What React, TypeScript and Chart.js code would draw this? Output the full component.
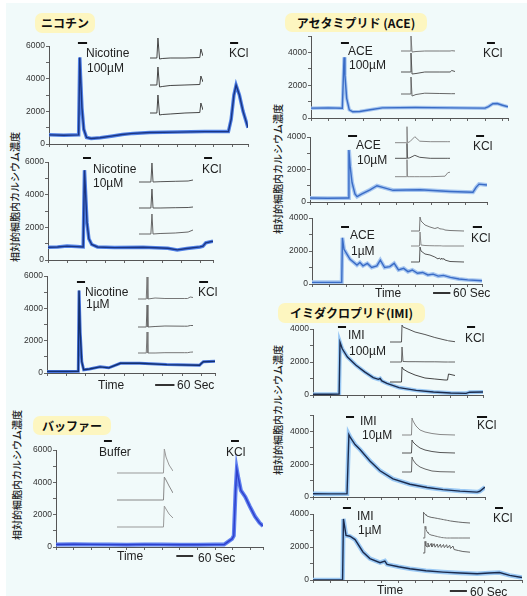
import React, { useEffect, useRef } from "react";
import { Chart, registerables } from "chart.js";
Chart.register(...registerables);

// ---------------- Main traces (x: minutes, y: relative [Ca2+]i) ----------------
const NIC100_T = [0, 0.8, 1.62, 1.68, 1.72, 1.8, 1.9, 2.05, 2.3, 2.8, 3.4, 4.0, 4.6, 5.5, 7.0, 8.5, 9.8, 9.95, 10.1, 10.22, 10.4, 10.6, 10.87];
const NIC100_V = [560, 540, 560, 5300, 4200, 2200, 900, 400, 340, 380, 480, 580, 650, 700, 730, 760, 760, 1500, 3000, 3600, 3000, 2000, 1000];

const NIC10_T = [0, 0.5, 1.0, 1.5, 1.85, 1.92, 1.98, 2.05, 2.15, 2.3, 2.6, 3.5, 5.0, 6.3, 6.8, 7.3, 8.0, 8.15, 8.3, 8.68];
const NIC10_V = [780, 800, 850, 820, 800, 5500, 4000, 2300, 1300, 950, 800, 760, 780, 720, 620, 700, 800, 850, 1050, 1150];

const NIC1_T = [0, 1.0, 1.62, 1.66, 1.72, 1.8, 1.9, 2.2, 2.75, 3.2, 3.8, 4.8, 6.2, 7.9, 8.0, 8.1, 8.7];
const NIC1_V = [100, 100, 110, 5100, 2500, 700, 200, 250, 380, 320, 600, 600, 520, 480, 600, 700, 720];

const BUF_T = [0, 1, 2, 3, 4, 5, 6, 7, 8, 9, 9.5, 9.75, 9.95, 10.05, 10.15, 10.22, 10.3, 10.45, 10.7, 10.96, 11.24, 11.5, 11.7];
const BUF_V = [150, 170, 160, 150, 140, 160, 150, 140, 140, 150, 150, 350, 500, 700, 3500, 4800, 4300, 3500, 3100, 2500, 1900, 1500, 1300];

const ACE100_T = [0, 1.0, 1.8, 1.86, 1.9, 1.95, 2.05, 2.2, 2.4, 2.8, 3.4, 4.1, 6, 8, 10.0, 10.2, 10.45, 10.7, 11.0, 11.32];
const ACE100_V = [600, 620, 600, 2500, 3700, 2600, 1200, 500, 380, 400, 500, 620, 640, 620, 600, 700, 870, 880, 780, 680];

const ACE10_T = [0, 1.0, 2.2, 2.25, 2.32, 2.43, 2.6, 2.72, 3.0, 3.47, 3.87, 4.2, 4.8, 6.36, 8.1, 9.42, 9.6, 9.77, 10.23];
const ACE10_V = [250, 230, 250, 3200, 2200, 1200, 500, 330, 500, 750, 1000, 900, 720, 750, 650, 600, 900, 1100, 1050];

const ACE1_T = [0, 1.0, 1.72, 1.76, 1.85, 2.08, 2.2, 2.6, 2.77, 2.95, 3.2, 3.45, 3.75, 3.95, 4.2, 4.5, 4.75, 5.0, 5.3, 5.55, 5.8, 6.1, 6.4, 6.7, 7.0, 7.3, 7.6, 8.0, 8.5, 9.0, 9.83];
const ACE1_V = [100, 100, 110, 2800, 2100, 1700, 1500, 1150, 1300, 1100, 1250, 1000, 1100, 1450, 1000, 1050, 1250, 850, 950, 750, 850, 650, 700, 550, 600, 480, 520, 400, 300, 250, 200];

const IMI100_T = [0, 1.0, 1.52, 1.57, 1.7, 2.0, 2.5, 3.0, 3.5, 3.8, 3.9, 4.0, 4.3, 5.0, 6.0, 7.0, 8.0, 8.9, 9.1, 9.88];
const IMI100_V = [50, 50, 60, 3200, 2800, 2300, 1800, 1400, 1050, 950, 1000, 850, 700, 450, 280, 180, 120, 100, 170, 180];

const IMI10_T = [0, 1.0, 1.99, 2.1, 2.2, 2.46, 2.75, 3.33, 3.92, 4.68, 5.67, 6.67, 7.6, 8.6, 9.6, 9.76, 10.06];
const IMI10_V = [200, 190, 200, 3800, 3600, 3200, 2900, 2200, 1600, 1100, 780, 580, 450, 360, 300, 350, 600];

const IMI1_T = [0, 1.0, 1.73, 1.78, 1.93, 2.16, 2.46, 2.92, 3.33, 3.92, 4.2, 4.33, 5.0, 5.67, 6.6, 7.6, 8.6, 9.6, 10.3, 10.9, 11.5, 12.22];
const IMI1_V = [0, 0, 10, 3700, 2700, 2650, 2450, 1700, 1300, 1050, 1150, 950, 800, 680, 560, 480, 420, 380, 420, 450, 280, 150];

// stimulus timings (minutes)
const NIC100_STIM = [[1.58, 2.08], [9.89, 10.33]];
const NIC10_STIM = [[1.84, 2.26], [8.21, 8.63]];
const NIC1_STIM = [[1.55, 1.97], [7.88, 8.34]];
const BUF_STIM = [[2.71, 3.16], [9.89, 10.34]];
const ACE100_STIM = [[1.72, 2.18], [10.11, 10.57]];
const ACE10_STIM = [[2.2, 2.72], [9.6, 10.06]];
const ACE1_STIM = [[1.68, 2.14], [9.3, 9.83]];
const IMI100_STIM = [[1.45, 1.92], [8.95, 9.42]];
const IMI10_STIM = [[1.93, 2.4], [9.59, 10.18]];
const IMI1_STIM = [[1.75, 2.22], [10.64, 11.11]];

// ---------------- Inset single-cell traces (x: % of inset width, y: deflection) ----------------
const IN_N100_X = [0, 13, 15, 18, 23, 38, 66, 94, 96, 100];
const IN_N100_A = [0, 0, 20, -1, -0.5, 0, 0, 0.5, 9, 2];
const IN_N100_B = [0, 0, 18, -2, -1.5, -0.5, 0, 0.5, 9, 3];
const IN_N100_C = [0, 0, 18, -2, -1.5, -1, 0, 0.5, 10, 3];

const IN_N10_X = [0, 22, 24, 26, 39, 67, 91, 100];
const IN_N10_A = [0, 0, 19, 0, 0.3, 0.7, 1, 2];
const IN_N10_B = [0, 0, 19, 0, 0, 0.3, 0.5, 1];
const IN_N10_C = [0, 0, 20, 0, 0.5, 1, 2, 4];

const IN_N1_X = [0, 15, 16.5, 18, 31, 49, 85, 90, 95, 100];
const IN_N1_A = [0, 0, 22, 0, 1, 0.5, 0.5, 0.5, 2, 1.5];
const IN_N1_B = [0, 0, 22, 0, 0.5, 1, 0.8, 0.8, 1.5, 1.5];
const IN_N1_C = [0, 0, 21, 0, 0, 0.3, 0.3, 0.3, 0.8, 1];

const IN_BUF_X = [0, 83, 84.5, 87.5, 93, 100];
const IN_BUF_A = [0, 0, 24, 16, 8, 2];
const IN_BUF_B = [0, 0, 23, 20, 14, 7];
const IN_BUF_C = [0, 0, 21, 18, 13, 9];

const IN_A100_X = [0, 17.6, 18.5, 20.4, 27.8, 44, 72, 91, 94, 100];
const IN_A100_A = [0, 0, 15, -1, -0.5, 0, 0, 0, 0.3, 0];
const IN_A100_B = [0, 0, 19, -2, -1.5, 0, 0, 0, 1.5, 0.5];
const IN_A100_C = [0, 0, 17, -2, -0.5, 0.8, 0.5, 0.3, 0.3, 0.3];

const IN_A10_X = [0, 21, 21.8, 22.7, 27, 36, 45, 64, 91, 96, 100];
const IN_A10_A = [0, 0, 16, 0, 1, 6, 1.5, 1, 1, 1, 1];
const IN_A10_B = [0, 0, 15, 0, 0.5, 3, 1, 0, 0, 0, 0];
const IN_A10_C = [0, 0, 17, 0, 0, 0, 0, 0, 0.5, 4, 4.5];

const IN_A1_X = [0, 16, 17, 18.9, 26.4, 35.8, 45, 51, 53, 56.6, 58, 60, 62, 64, 73.6, 100];
const IN_A1_A = [0, 0, 14, 10, 6, 4, 2.5, 3.5, 2.5, 2, 2, 1.8, 1.6, 1, 0.5, 0];
const IN_A1_B = [0, 0, 14, 1, 0.5, 0.3, 0.2, 0.2, 0.2, 0.2, 0.1, 0, 0, 0, 0, 0];
const IN_A1_C = [0, 0, 15, 11, 8, 7, 5, 3, 4, 2.5, 4, 2.5, 3.5, 2, 0.5, 0];

const IN_I100_X = [0, 17.7, 18.5, 20, 27.7, 38.5, 53.8, 69, 84.6, 88.5, 90, 100];
const IN_I100_A = [0, 0, 17, 15, 13, 10, 7.5, 4.5, 2, 1.5, 1.2, 0.3];
const IN_I100_B = [0, 0, 15, 0.5, 0.3, 0.3, 0.2, 0.2, 0, 0, 0, 0];
const IN_I100_C = [0, 0, 15, 13, 10, 7, 4, 3, 2, 2, 8, 6.5];

const IN_I10_X = [0, 17.9, 18.9, 20.8, 26.4, 34, 43.4, 56.6, 71.7, 100];
const IN_I10_A = [0, 0, 17, 14, 9, 5, 3, 1.5, 0.5, 0];
const IN_I10_B = [0, 0, 13, 11, 8, 5, 3, 1.5, 0.5, 0];
const IN_I10_C = [0, 0, 15, 12, 8, 5, 3, 1, 0.3, 0];

const IN_I1_X = [0, 1, 1.5, 3.8, 4.3, 6, 9, 10.6, 12.5, 17.2, 19, 23.8, 25.6, 30.4, 32.2, 37, 38.8, 43.6, 45.4, 50.2, 52, 56.8, 58.6, 63.8, 66, 75, 85, 100];
const IN_I1_A = [0, 11, 10.5, 9, 8.7, 8, 7, 6.7, 6.3, 5.7, 5.5, 5.2, 5, 4.6, 4.4, 4, 3.8, 3.4, 3.2, 2.8, 2.6, 2.2, 2, 1.7, 1.5, 1, 0.5, 0];
const IN_I1_B = [0, 0, 0, 0, 11.6, 9, 6, 5, 4, 3, 2.8, 2.3, 2, 1.5, 1.2, 0.8, 0.5, 0.3, 0.2, 0, 0, 0, 0, 0, 0, 0, 0, 0];
const IN_I1_C = [0, 0, 0, 0, 11.6, 7, 6.2, 10, 6, 9.5, 6, 9.3, 5.8, 9, 5.6, 8.8, 5.5, 8.5, 5.3, 8.3, 5, 7.8, 4.5, 7, 3.5, 2.5, 1.5, 0.8];

// ---------------- Styles & layout ----------------
const LATIN = '"Liberation Sans", Arial, Helvetica, sans-serif';
const CJK = '"Noto Sans CJK JP", "Noto Sans CJK SC", sans-serif';
const BG = "#f1fafa";
const CHIP = "#fdf6c0";

const NIC = { line: "#1a3584", band: "#5080e6" };
const NIC1 = { line: "#13306f", band: "#4a76e0" };
const ACE = { line: "#3a6cc6", band: "#a6c6f0" };
const IMI = { line: "#1b2b4d", band: "#9ac8f4" };
const BUF = { line: "#2f40cc", band: "#5f80f0" };

const PAD_L = 40, PAD_T = 16, PAD_R = 6, PAD_B = 24;

type Bar = { x0: number; x1: number; y: number };
type PanelSpec = {
  t: number[]; v: number[];
  l: number; r: number; top: number; bottom: number;
  yMax: number; xMax: number;
  col: { line: string; band: string }; bandW: number;
  stim: number[][]; stimY: number; scaleBar?: Bar;
};

const PANELS: PanelSpec[] = [
  { t: NIC100_T, v: NIC100_V, l: 49, r: 248, top: 46, bottom: 144, yMax: 6000, xMax: 10.87, col: NIC, bandW: 3.5, stim: NIC100_STIM, stimY: 43 },
  { t: NIC10_T, v: NIC10_V, l: 48, r: 213, top: 162, bottom: 260, yMax: 6000, xMax: 8.68, col: NIC, bandW: 3.5, stim: NIC10_STIM, stimY: 158 },
  { t: NIC1_T, v: NIC1_V, l: 47, r: 215, top: 276, bottom: 373, yMax: 6000, xMax: 8.7, col: NIC1, bandW: 3, stim: NIC1_STIM, stimY: 282, scaleBar: { x0: 5.6, x1: 6.6, y: 385 } },
  { t: BUF_T, v: BUF_V, l: 56, r: 263, top: 450, bottom: 547, yMax: 6000, xMax: 11.7, col: BUF, bandW: 4, stim: BUF_STIM, stimY: 441, scaleBar: { x0: 6.8, x1: 7.75, y: 556 } },
  { t: ACE100_T, v: ACE100_V, l: 311, r: 508, top: 36, bottom: 118, yMax: 5000, xMax: 11.32, col: ACE, bandW: 3.5, stim: ACE100_STIM, stimY: 43 },
  { t: ACE10_T, v: ACE10_V, l: 310, r: 487, top: 137, bottom: 202, yMax: 4000, xMax: 10.23, col: ACE, bandW: 4, stim: ACE10_STIM, stimY: 136 },
  { t: ACE1_T, v: ACE1_V, l: 312, r: 482, top: 218, bottom: 284, yMax: 4000, xMax: 9.83, col: ACE, bandW: 4, stim: ACE1_STIM, stimY: 227, scaleBar: { x0: 7.0, x1: 8.0, y: 293 } },
  { t: IMI100_T, v: IMI100_V, l: 313, r: 483, top: 329, bottom: 395, yMax: 4000, xMax: 9.88, col: IMI, bandW: 4, stim: IMI100_STIM, stimY: 327 },
  { t: IMI10_T, v: IMI10_V, l: 313, r: 485, top: 415, bottom: 497, yMax: 5000, xMax: 10.06, col: IMI, bandW: 4.5, stim: IMI10_STIM, stimY: 417 },
  { t: IMI1_T, v: IMI1_V, l: 313, r: 522, top: 514, bottom: 580, yMax: 4000, xMax: 12.22, col: IMI, bandW: 4.5, stim: IMI1_STIM, stimY: 508, scaleBar: { x0: 8.0, x1: 9.0, y: 591 } },
];

type InsetSpec = { x: number[]; traces: number[][]; offsets: number[]; l: number; t: number; r: number; b: number; colors: string[] };
const INSETS: InsetSpec[] = [
  { x: IN_N100_X, traces: [IN_N100_A, IN_N100_B, IN_N100_C], offsets: [58, 31, 3], l: 150, t: 33, r: 203, b: 116, colors: ["#444", "#444", "#444"] },
  { x: IN_N10_X, traces: [IN_N10_A, IN_N10_B, IN_N10_C], offsets: [54, 28, 2], l: 139, t: 160, r: 193, b: 236, colors: ["#555", "#555", "#666"] },
  { x: IN_N1_X, traces: [IN_N1_A, IN_N1_B, IN_N1_C], offsets: [56, 28, 2], l: 138, t: 275, r: 193, b: 355, colors: ["#777", "#666", "#777"] },
  { x: IN_BUF_X, traces: [IN_BUF_A, IN_BUF_B, IN_BUF_C], offsets: [56, 29, 2], l: 117, t: 445, r: 173, b: 529, colors: ["#999", "#888", "#999"] },
  { x: IN_A100_X, traces: [IN_A100_A, IN_A100_B, IN_A100_C], offsets: [46, 25, 3], l: 401, t: 34, r: 455, b: 97, colors: ["#777", "#555", "#666"] },
  { x: IN_A10_X, traces: [IN_A10_A, IN_A10_B, IN_A10_C], offsets: [36.3, 20.7, 2.3], l: 395, t: 125, r: 450, b: 179, colors: ["#888", "#555", "#888"] },
  { x: IN_A1_X, traces: [IN_A1_A, IN_A1_B, IN_A1_C], offsets: [33, 18, 2], l: 411, t: 215, r: 464, b: 264, colors: ["#777", "#888", "#555"] },
  { x: IN_I100_X, traces: [IN_I100_A, IN_I100_B, IN_I100_C], offsets: [42, 22, 2], l: 390, t: 322, r: 455, b: 384, colors: ["#555", "#666", "#444"] },
  { x: IN_I10_X, traces: [IN_I10_A, IN_I10_B, IN_I10_C], offsets: [39, 21, 2], l: 402, t: 416, r: 455, b: 474, colors: ["#888", "#555", "#666"] },
  { x: IN_I1_X, traces: [IN_I1_A, IN_I1_B, IN_I1_C], offsets: [32, 17, 2], l: 423, t: 509, r: 470, b: 555, colors: ["#666", "#777", "#666"] },
];

type Txt = { s: string; x: number; y: number };
const TEXTS: Txt[] = [
  { s: "Nicotine", x: 86, y: 53 }, { s: "100µM", x: 87, y: 68 }, { s: "KCl", x: 229, y: 53 },
  { s: "Nicotine", x: 93, y: 169 }, { s: "10µM", x: 93, y: 183 }, { s: "KCl", x: 202, y: 169 },
  { s: "Nicotine", x: 85, y: 292 }, { s: "1µM", x: 86, y: 304 }, { s: "KCl", x: 198, y: 292 },
  { s: "Time", x: 98, y: 385 }, { s: "60 Sec", x: 177, y: 385 },
  { s: "Buffer", x: 99, y: 452 }, { s: "KCl", x: 226, y: 452 },
  { s: "Time", x: 117, y: 556 }, { s: "60 Sec", x: 198, y: 558 },
  { s: "ACE", x: 348, y: 51 }, { s: "100µM", x: 349, y: 65 }, { s: "KCl", x: 483, y: 53 },
  { s: "ACE", x: 356, y: 145 }, { s: "10µM", x: 357, y: 160 }, { s: "KCl", x: 473, y: 146 },
  { s: "ACE", x: 350, y: 235 }, { s: "1µM", x: 351, y: 251 }, { s: "KCl", x: 471, y: 238 },
  { s: "Time", x: 375, y: 293 }, { s: "60 Sec", x: 453, y: 293 },
  { s: "IMI", x: 348, y: 335 }, { s: "100µM", x: 349, y: 351 }, { s: "KCl", x: 465, y: 338 },
  { s: "IMI", x: 360, y: 421 }, { s: "10µM", x: 362, y: 435 }, { s: "KCl", x: 477, y: 425 },
  { s: "IMI", x: 357, y: 516 }, { s: "1µM", x: 358, y: 530 }, { s: "KCl", x: 493, y: 518 },
  { s: "Time", x: 377, y: 590 }, { s: "60 Sec", x: 470, y: 592 },
];

const CHIPS = [
  { s: "ニコチン", l: 35, t: 13, w: 60, h: 20 },
  { s: "アセタミプリド (ACE)", l: 285, t: 13, w: 142, h: 19 },
  { s: "イミダクロプリド(IMI)", l: 278, t: 303, w: 147, h: 20 },
  { s: "バッファー", l: 33, t: 416, w: 78, h: 19 },
];

const YTITLE = "相対的細胞内カルシウム濃度";
const YTITLES = [
  { x: 15, y: 197 },
  { x: 17, y: 475 },
  { x: 278, y: 169 },
  { x: 278, y: 410 },
];

// ---------------- Plugin: stimulus & scale bars (positioned through the x scale) ----------------
const barsPlugin = {
  id: "stimBars",
  afterDraw(chart: any, _a: any, opts: any) {
    const ctx = chart.ctx;
    const xs = chart.scales.x;
    ctx.save();
    for (const b of opts.bars) {
      const y = b.y - opts.originY;
      ctx.strokeStyle = b.color;
      ctx.lineWidth = b.w;
      ctx.beginPath();
      ctx.moveTo(xs.getPixelForValue(b.x0), y);
      ctx.lineTo(xs.getPixelForValue(b.x1), y);
      ctx.stroke();
    }
    ctx.restore();
  },
};

function MainPanel({ p }: { p: PanelSpec }) {
  const ref = useRef<HTMLCanvasElement | null>(null);
  const cw = p.r - p.l + PAD_L + PAD_R;
  const ch = p.bottom - p.top + PAD_T + PAD_B;
  const cl = p.l - PAD_L;
  const ct = p.top - PAD_T;
  useEffect(() => {
    const pts = p.t.map((t, i) => ({ x: t, y: p.v[i] }));
    const bars: any[] = p.stim.map((s) => ({ x0: s[0], x1: s[1], y: p.stimY, w: 2, color: "#111" }));
    if (p.scaleBar) bars.push({ ...p.scaleBar, w: 2, color: "#333" });
    const chart = new Chart(ref.current as HTMLCanvasElement, {
      type: "line",
      data: {
        datasets: [
          { data: pts, borderColor: p.col.line, borderWidth: 1.4, pointRadius: 0, tension: 0, fill: false },
          { data: pts, borderColor: p.col.band, borderWidth: p.bandW, pointRadius: 0, tension: 0, fill: false },
        ],
      },
      options: {
        animation: false,
        responsive: false,
        devicePixelRatio: 1,
        events: [],
        layout: { padding: { top: PAD_T, right: PAD_R, left: 0, bottom: 0 } },
        plugins: {
          legend: { display: false },
          tooltip: { enabled: false },
          stimBars: { bars, originY: ct },
        } as any,
        scales: {
          x: {
            type: "linear",
            min: 0,
            max: p.xMax,
            afterFit: (s: any) => { s.height = PAD_B; },
            ticks: { stepSize: 1, autoSkip: false, maxRotation: 0, callback: () => "", font: { size: 1 } },
            grid: { display: true, drawOnChartArea: false, drawTicks: true, tickLength: 3, color: "#666" },
            border: { display: true, color: "#555", width: 1 },
          },
          y: {
            type: "linear",
            min: 0,
            max: p.yMax,
            afterFit: (s: any) => { s.width = PAD_L; },
            ticks: {
              stepSize: 1000,
              autoSkip: false,
              padding: 1,
              color: "#333",
              font: { family: LATIN, size: 8.5 },
              callback: (v: any) => (v % 2000 === 0 && (p.yMax === 6000 || v <= 4000) ? String(v) : ""),
            },
            grid: { display: true, drawOnChartArea: false, drawTicks: true, tickLength: 3, color: "#666" },
            border: { display: true, color: "#555", width: 1 },
          },
        },
      },
      plugins: [barsPlugin as any],
    });
    return () => chart.destroy();
  }, []);
  return <canvas ref={ref} width={cw} height={ch} style={{ position: "absolute", left: cl, top: ct, width: cw, height: ch }} />;
}

function Inset({ s }: { s: InsetSpec }) {
  const ref = useRef<HTMLCanvasElement | null>(null);
  const w = s.r - s.l;
  const h = s.b - s.t;
  useEffect(() => {
    const datasets = s.traces.map((tr, k) => ({
      data: s.x.map((x, i) => ({ x, y: tr[i] + s.offsets[k] })),
      borderColor: s.colors[k],
      borderWidth: 1,
      pointRadius: 0,
      tension: 0,
      fill: false,
      clip: false as any,
    }));
    const chart = new Chart(ref.current as HTMLCanvasElement, {
      type: "line",
      data: { datasets },
      options: {
        animation: false,
        responsive: false,
        devicePixelRatio: 1,
        events: [],
        layout: { padding: 0 },
        plugins: { legend: { display: false }, tooltip: { enabled: false } },
        scales: {
          x: { type: "linear", display: false, min: 0, max: 100 },
          y: { type: "linear", display: false, min: 0, max: h },
        },
      },
    });
    return () => chart.destroy();
  }, []);
  return <canvas ref={ref} width={w} height={h} style={{ position: "absolute", left: s.l, top: s.t, width: w, height: h }} />;
}

export default function App() {
  return (
    <div style={{ position: "absolute", left: 0, top: 0, width: 527, height: 596, background: "#ffffff", overflow: "hidden" }}>
      <div style={{ position: "absolute", left: 6, top: 3, right: 0, bottom: 0, background: BG }} />
      {CHIPS.map((c, i) => (
        <div
          key={"c" + i}
          style={{
            position: "absolute", left: c.l, top: c.t, width: c.w, height: c.h, background: CHIP, borderRadius: 7,
            fontFamily: CJK, fontWeight: 700, fontSize: 12, lineHeight: c.h + "px", textAlign: "center", color: "#111", whiteSpace: "nowrap",
          }}
        >
          {c.s}
        </div>
      ))}
      {YTITLES.map((t, i) => (
        <div
          key={"y" + i}
          style={{
            position: "absolute", left: t.x, top: t.y, transform: "translate(-50%, -50%) rotate(-90deg)",
            fontFamily: CJK, fontSize: 10, fontWeight: 500, color: "#222", whiteSpace: "nowrap", lineHeight: "12px",
          }}
        >
          {YTITLE}
        </div>
      ))}
      {PANELS.map((p, i) => <MainPanel key={"p" + i} p={p} />)}
      {INSETS.map((s, i) => <Inset key={"i" + i} s={s} />)}
      {TEXTS.map((t, i) => (
        <div
          key={"t" + i}
          style={{
            position: "absolute", left: t.x, top: t.y - 7, fontFamily: LATIN, fontSize: 12, lineHeight: "14px", color: "#222", whiteSpace: "nowrap",
          }}
        >
          {t.s}
        </div>
      ))}
    </div>
  );
}
